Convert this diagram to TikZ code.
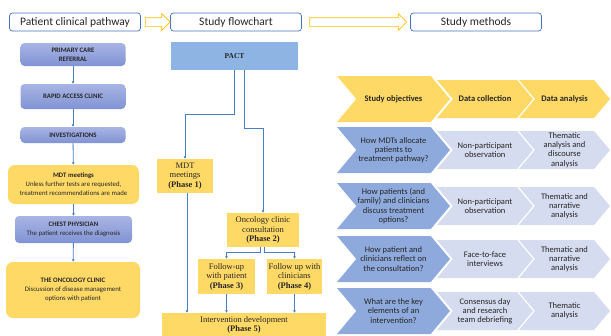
\documentclass[tikz,border=0pt]{standalone}
\usepackage{fontspec}
\setmainfont{Carlito}
\newfontfamily\phaseserif{Liberation Serif}
\usetikzlibrary{arrows.meta, positioning, calc, shapes.symbols, shapes.arrows}
\definecolor{pcBlueLine}{RGB}{68,114,196}
\definecolor{pcGold}{RGB}{255,192,0}
\definecolor{pcYellow}{RGB}{255,217,102}
\definecolor{pcLavTop}{RGB}{168,180,227}
\definecolor{pcLavBot}{RGB}{128,147,212}
\definecolor{pcPact}{RGB}{142,180,227}
\definecolor{pcLink}{RGB}{74,126,196}
\definecolor{pcChevBlue}{RGB}{142,169,219}
\definecolor{pcChevPale}{RGB}{214,220,240}
\definecolor{pcInk}{RGB}{38,38,38}

\begin{document}
\begin{tikzpicture}[
    x=1pt, y=-1pt,
    font=\fontsize{8.5}{9.2}\selectfont, text=pcInk,
    head/.style={draw=pcBlueLine, line width=0.7pt, fill=white,
                 rounded corners=3pt, minimum width=131pt, minimum height=18pt,
                 inner sep=0pt, font=\fontsize{11.5}{12}\selectfont},
    blockarr/.style={single arrow, draw=pcGold, line width=0.7pt, fill=white,
                     text height=4pt, text depth=4pt, single arrow head extend=4pt,
                     inner sep=0pt},
    pbox/.style={top color=pcLavTop, bottom color=pcLavBot, rounded corners=4pt,
                 align=center, inner sep=0pt, minimum width=105pt,
                 font=\fontsize{6.8}{9}\selectfont},
    ybox/.style={fill=pcYellow, rounded corners=7pt, align=center, inner sep=0pt,
                 font=\fontsize{6.8}{9}\selectfont},
    phase/.style={fill=pcYellow, align=center, inner sep=0pt,
                  font=\phaseserif\fontsize{8.5}{9.5}\selectfont},
    link/.style={draw=pcLink, line width=0.8pt,
                 -{Latex[length=2.5pt, width=3pt]}},
    chev/.style={signal, signal from=west, signal to=east,
                 signal pointer angle=100, align=center, inner sep=0pt},
    chevA/.style={chev, minimum width=113pt, minimum height=46pt},
    chevB/.style={chev, minimum width=96pt, minimum height=38pt},
    chevC/.style={chev, minimum width=91pt, minimum height=38pt}
]
\useasboundingbox (0,0) rectangle (611,335);

% top headers
\node[head] (pcp) at (75,22)  {Patient clinical pathway};
\node[head] (sfc) at (236,22) {Study flowchart};
\node[head] (smt) at (476,22) {Study methods};
\node[blockarr, minimum height=25pt] (ar1) at ($(pcp.east)!0.5!(sfc.west)$) {};
\node[blockarr, minimum height=97pt] (ar2) at ($(sfc.east)!0.5!(smt.west)$) {};

% patient clinical pathway
\node[pbox, minimum height=23pt] (pcr) at (73,54.5) {\textbf{PRIMARY CARE}\\\textbf{REFERRAL}};
\node[pbox, minimum height=25pt] (rac) at (73,96.5) {\textbf{RAPID ACCESS CLINIC}};
\node[pbox, minimum height=16pt] (inv) at (73,135)  {\textbf{INVESTIGATIONS}};
\node[ybox, minimum width=131pt, minimum height=39pt] (mdt) at (73.5,184.5)
  {\textbf{MDT meetings}\\Unless further tests are requested,\\treatment recommendations are made};
\node[pbox, minimum width=117pt, minimum height=27pt] (chp) at (73.5,229.5)
  {\textbf{CHEST PHYSICIAN}\\The patient receives the diagnosis};
\node[ybox, minimum width=134pt, minimum height=56pt] (onc) at (73,290)
  {\textbf{THE ONCOLOGY CLINIC}\\Discussion of disease management\\options with patient};

\draw[link] (pcr) -- (rac);
\draw[link] (rac) -- (inv);
\draw[link] (inv) -- (mdt);
\draw[link] (mdt) -- (chp);
\draw[link] (chp) -- (onc);

% study flowchart
\node[fill=pcPact, minimum width=127pt, minimum height=28pt, inner sep=0pt,
      font=\phaseserif\bfseries\fontsize{7.5}{8}\selectfont] (pact) at (234.5,56) {PACT};
\node[phase, minimum width=56pt, minimum height=34pt] (ph1) at (185,176)
  {MDT\\meetings\\\textbf{(Phase 1)}};
\node[phase, minimum width=72pt, minimum height=34pt] (ph2) at (263,230)
  {Oncology clinic\\consultation\\\textbf{(Phase 2)}};
\node[phase, minimum width=57pt, minimum height=35pt] (ph3) at (226.5,276.5)
  {Follow-up\\with patient\\\textbf{(Phase 3)}};
\node[phase, minimum width=55pt, minimum height=35pt] (ph4) at (294.5,276.5)
  {Follow up with\\clinicians\\\textbf{(Phase 4)}};
\node[phase, minimum width=164pt, minimum height=24pt] (ph5) at (244,325)
  {Intervention development\\\textbf{(Phase 5)}};

\draw[link] (pact.south) -- ++(0,44) -| (ph1.north);
\draw[link] ([xshift=9.5pt]pact.south) -- ++(0,58) -| (ph2.north);
\draw[link] ([xshift=-3pt]ph2.south) -- ++(0,5) -| (ph3.north);
\draw[link] ([xshift=1pt]ph2.south) -- ++(0,5) -| (ph4.north);
\draw[link] ([xshift=2pt]ph1.south) -- ([xshift=2pt]ph1.south |- ph5.north);
\draw[link] (ph3.south) -- (ph3.south |- ph5.north);
\draw[link] (ph4.south) -- (ph4.south |- ph5.north);

% study methods
\node[chevA, fill=pcYellow] (obj) at (393.5,99) {\textbf{Study objectives}};
\node[chevB, fill=pcYellow] (col) at (485,99)   {\textbf{Data collection}};
\node[chevC, fill=pcYellow] (ana) at (564.5,99) {\textbf{Data analysis}};

\node[chevA, fill=pcChevBlue] (obj1) at (393.5,150) {How MDTs allocate\\patients to\\treatment\ pathway?};
\node[chevB, fill=pcChevPale] (col1) at (485,150)   {Non-participant\\observation};
\node[chevC, fill=pcChevPale] (ana1) at (564.5,150) {Thematic\\analysis and\\discourse\\analysis};

\node[chevA, fill=pcChevBlue] (obj2) at (393.5,206) {How patients (and\\family) and clinicians\\discuss treatment\\options?};
\node[chevB, fill=pcChevPale] (col2) at (485,206)   {Non-participant\\observation};
\node[chevC, fill=pcChevPale] (ana2) at (564.5,206) {Thematic and\\narrative\\analysis};

\node[chevA, fill=pcChevBlue] (obj3) at (393.5,259) {How patient and\\clinicians reflect on\\the consultation?};
\node[chevB, fill=pcChevPale] (col3) at (485,259)   {Face-to-face\\interviews};
\node[chevC, fill=pcChevPale] (ana3) at (564.5,259) {Thematic and\\narrative\\analysis};

\node[chevA, fill=pcChevBlue] (obj4) at (393.5,311) {What are the key\\elements of an\\intervention?};
\node[chevB, fill=pcChevPale] (col4) at (485,311)   {Consensus day\\and research\\team debriefing};
\node[chevC, fill=pcChevPale] (ana4) at (564.5,311) {Thematic\\analysis};
\end{tikzpicture}
\end{document}
